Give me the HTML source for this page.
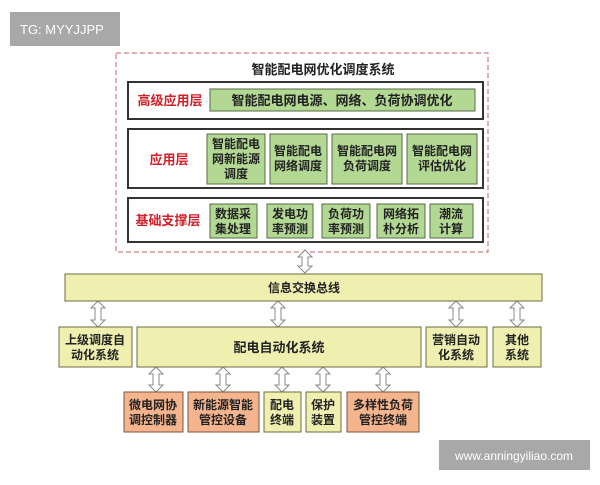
<!DOCTYPE html>
<html><head><meta charset="utf-8"><style>
html,body{margin:0;padding:0;background:#fff;}
svg text{font-family:"Liberation Sans","Noto Sans CJK SC",sans-serif;}
</style></head><body>
<svg width="600" height="480" viewBox="0 0 600 480" xmlns="http://www.w3.org/2000/svg">
<defs>
<g id="da">
<path d="M0,0 L7,7 L3,7 L3,-0 Z" fill="none"/>
</g>
</defs>
<rect x="0" y="0" width="600" height="480" fill="#fff"/>
<!-- watermark top -->
<rect x="10" y="12" width="110" height="34" fill="#a8a8a8"/>
<text x="20" y="34" font-size="13" fill="#fff">TG: MYYJJPP</text>
<!-- dashed box -->
<rect x="116" y="53" width="372" height="199" fill="none" stroke="#c0606a" stroke-width="1" stroke-dasharray="5,3"/>
<text x="323" y="74" font-size="13" fill="#222" text-anchor="middle" font-weight="bold">智能配电网优化调度系统</text>
<g stroke="#333" stroke-width="2" fill="#fff">
<rect x="128" y="82" width="355" height="37"/>
<rect x="128" y="129" width="355" height="59"/>
<rect x="128" y="198" width="355" height="44"/>
</g>
<g font-size="13" fill="#d0202a" text-anchor="middle" font-weight="bold">
<text x="170" y="105">高级应用层</text>
<text x="169" y="164">应用层</text>
<text x="168" y="225">基础支撑层</text>
</g>
<g fill="#b3d893" stroke="#556b44" stroke-width="1">
<rect x="210" y="89" width="265" height="22"/>
<rect x="207" y="134" width="58" height="50"/>
<rect x="270" y="134" width="57" height="50"/>
<rect x="332" y="134" width="70" height="50"/>
<rect x="407" y="134" width="70" height="50"/>
<rect x="210" y="204" width="47" height="34"/>
<rect x="267" y="204" width="46" height="34"/>
<rect x="322" y="204" width="48" height="34"/>
<rect x="377" y="204" width="48" height="34"/>
<rect x="430" y="204" width="43" height="34"/>
</g>
<g font-size="12" fill="#222" text-anchor="middle" font-weight="bold">
<text x="342" y="105" font-size="13">智能配电网电源、网络、负荷协调优化</text>
<text x="236" y="148">智能配电</text><text x="236" y="163">网新能源</text><text x="236" y="178">调度</text>
<text x="298" y="155">智能配电</text><text x="298" y="170">网络调度</text>
<text x="367" y="155">智能配电网</text><text x="367" y="170">负荷调度</text>
<text x="442" y="155">智能配电网</text><text x="442" y="170">评估优化</text>
<text x="233" y="218">数据采</text><text x="233" y="233">集处理</text>
<text x="290" y="218">发电功</text><text x="290" y="233">率预测</text>
<text x="346" y="218">负荷功</text><text x="346" y="233">率预测</text>
<text x="401" y="218">网络拓</text><text x="401" y="233">朴分析</text>
<text x="451" y="218">潮流</text><text x="451" y="233">计算</text>
</g>
<!-- arrows -->
<g fill="#fff" stroke="#888" stroke-width="1">
<path d="M305,250 L312,257 L308,257 L308,266 L312,266 L305,273 L298,266 L302,266 L302,257 L298,257 Z"/>
<path d="M98,301 L105,308 L101,308 L101,320 L105,320 L98,327 L91,320 L95,320 L95,308 L91,308 Z"/>
<path d="M278,301 L285,308 L281,308 L281,320 L285,320 L278,327 L271,320 L275,320 L275,308 L271,308 Z"/>
<path d="M456,301 L463,308 L459,308 L459,320 L463,320 L456,327 L449,320 L453,320 L453,308 L449,308 Z"/>
<path d="M517,301 L524,308 L520,308 L520,320 L524,320 L517,327 L510,320 L514,320 L514,308 L510,308 Z"/>
<path d="M156,367 L163,374 L159,374 L159,385 L163,385 L156,392 L149,385 L153,385 L153,374 L149,374 Z"/>
<path d="M223,367 L230,374 L226,374 L226,385 L230,385 L223,392 L216,385 L220,385 L220,374 L216,374 Z"/>
<path d="M282,367 L289,374 L285,374 L285,385 L289,385 L282,392 L275,385 L279,385 L279,374 L275,374 Z"/>
<path d="M323,367 L330,374 L326,374 L326,385 L330,385 L323,392 L316,385 L320,385 L320,374 L316,374 Z"/>
<path d="M383,367 L390,374 L386,374 L386,385 L390,385 L383,392 L376,385 L380,385 L380,374 L376,374 Z"/>
</g>
<g fill="#eff0b0" stroke="#6b6b40" stroke-width="1">
<rect x="65" y="274" width="477" height="27"/>
<rect x="59" y="327" width="73" height="40"/>
<rect x="137" y="327" width="284" height="40"/>
<rect x="426" y="327" width="61" height="40"/>
<rect x="493" y="327" width="48" height="40"/>
<rect x="264" y="392" width="37" height="40"/>
<rect x="306" y="392" width="35" height="40"/>
</g>
<g fill="#f4b48e" stroke="#7a5540" stroke-width="1">
<rect x="124" y="392" width="59" height="40"/>
<rect x="188" y="392" width="71" height="40"/>
<rect x="347" y="392" width="72" height="40"/>
</g>
<g font-size="12" fill="#222" text-anchor="middle" font-weight="bold">
<text x="304" y="292">信息交换总线</text>
<text x="95" y="344">上级调度自</text><text x="95" y="359">动化系统</text>
<text x="279" y="352" font-size="13">配电自动化系统</text>
<text x="456" y="344">营销自动</text><text x="456" y="359">化系统</text>
<text x="517" y="344">其他</text><text x="517" y="359">系统</text>
<text x="153" y="409">微电网协</text><text x="153" y="424">调控制器</text>
<text x="223" y="409">新能源智能</text><text x="223" y="424">管控设备</text>
<text x="282" y="409">配电</text><text x="282" y="424">终端</text>
<text x="323" y="409">保护</text><text x="323" y="424">装置</text>
<text x="383" y="409">多样性负荷</text><text x="383" y="424">管控终端</text>
</g>
<rect x="439" y="440" width="151" height="30" fill="#a8a8a8"/>
<text x="514" y="460" font-size="12" fill="#fff" text-anchor="middle">www.anningyiliao.com</text>
</svg>
</body></html>
